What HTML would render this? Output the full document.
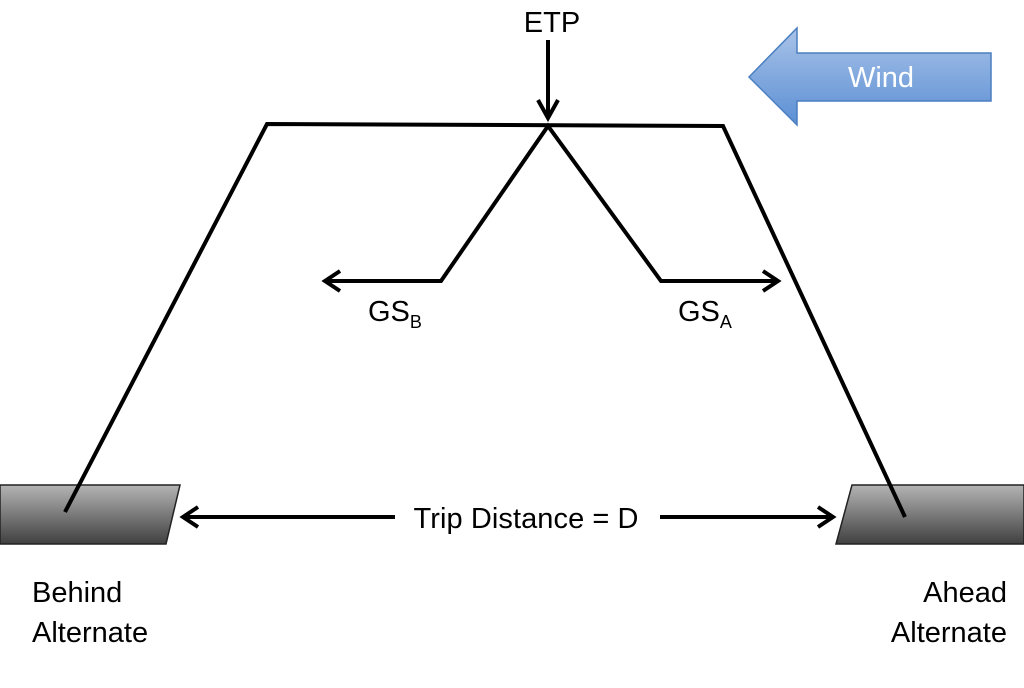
<!DOCTYPE html>
<html><head><style>body{margin:0;background:#fff}</style></head><body>
<svg width="1024" height="683" viewBox="0 0 1024 683" xmlns="http://www.w3.org/2000/svg">
<defs>
<linearGradient id="g" x1="0" y1="0" x2="0" y2="1"><stop offset="0" stop-color="#b4b4b4"/><stop offset="1" stop-color="#404040"/></linearGradient>
<linearGradient id="b" x1="0" y1="0" x2="0" y2="1"><stop offset="0" stop-color="#a9c3e8"/><stop offset="1" stop-color="#5b8fd4"/></linearGradient>
</defs>
<polygon points="0,485 180,485 166,544 0,544" fill="url(#g)" stroke="#222" stroke-width="1.5"/>
<polygon points="852,485 1024,485 1024,544 836,544" fill="url(#g)" stroke="#222" stroke-width="1.5"/>
<polygon points="749,77 797,28 797,53 991,53 991,101 797,101 797,125" fill="url(#b)" stroke="#4a7ebf" stroke-width="1.5"/>
<text x="881" y="87" font-family="Liberation Sans, sans-serif" font-size="29" fill="#fff" text-anchor="middle">Wind</text>
<g stroke="#000" stroke-width="4" fill="none">
<polyline points="65,512 267,124 723,126 905,517"/>
<line x1="548" y1="40" x2="548" y2="114"/>
<polyline points="325,281 441,281 548,126 661,281 776,281"/>
<line x1="183" y1="517" x2="395" y2="517"/>
<line x1="660" y1="517" x2="833" y2="517"/>
<polyline points="538,100 548,118 558,100" stroke-width="4"/>
<polyline points="340,271 325,281 340,291"/>
<polyline points="763,271 778,281 763,291"/>
<polyline points="198,507 183,517 198,527"/>
<polyline points="818,507 833,517 818,527"/>
</g>
<g font-family="Liberation Sans, sans-serif" font-size="29" fill="#000">
<text x="552" y="32" text-anchor="middle">ETP</text>
<text x="368" y="321">GS<tspan font-size="18" dy="7">B</tspan></text>
<text x="678" y="321">GS<tspan font-size="18" dy="7">A</tspan></text>
<text x="526" y="528" text-anchor="middle" textLength="225">Trip Distance = D</text>
<text x="32" y="602">Behind</text>
<text x="32" y="642">Alternate</text>
<text x="1007" y="602" text-anchor="end">Ahead</text>
<text x="1007" y="642" text-anchor="end">Alternate</text>
</g>
</svg>
</body></html>
